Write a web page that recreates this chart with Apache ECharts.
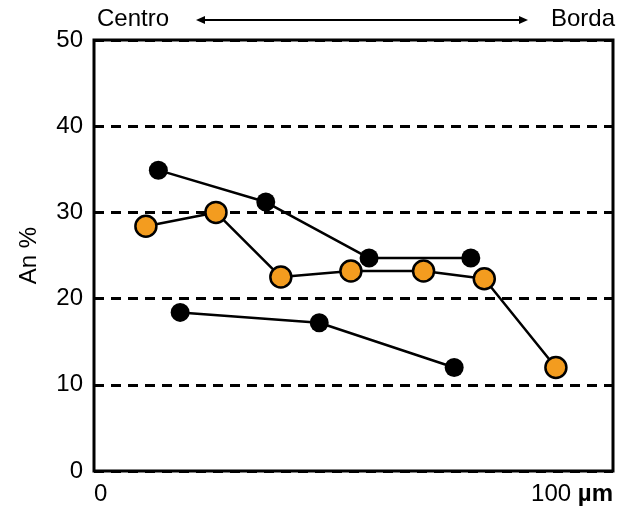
<!DOCTYPE html>
<html>
<head>
<meta charset="utf-8">
<script src="https://cdn.jsdelivr.net/npm/echarts@6/dist/echarts.min.js"></script>
<style>html,body{margin:0;padding:0;background:#fff}#c{width:628px;height:507px}</style>
</head>
<body>
<div id="c"></div>
<script>
// Data (x in µm, y in An %)
const blackUpperX = [12.4, 33.1, 53.0, 72.6];
const blackUpperY = [34.9, 31.2, 24.7, 24.7];
const orangeX = [10.0, 23.5, 36.0, 49.5, 63.5, 75.2, 89.0];
const orangeY = [28.4, 30.0, 22.5, 23.2, 23.2, 22.3, 12.0];
const blackLowerX = [16.6, 43.4, 69.4];
const blackLowerY = [18.4, 17.2, 12.0];
const yTicks = [0, 10, 20, 30, 40, 50];
const xTickLabels = ['0', '100 µm'];
const topLeftLabel = 'Centro';
const topRightLabel = 'Borda';
const yName = 'An %';

const zip = (xs, ys) => xs.map((x, i) => [x, ys[i]]);
const FONT = 'Liberation Sans, Arial, sans-serif';
const FS = 24;

const chart = echarts.init(document.getElementById('c'), null, {renderer: 'canvas'});
chart.setOption({
  animation: false,
  backgroundColor: '#fff',
  grid: {left: 94, right: 15, top: 40, bottom: 36, show: true, borderColor: '#000', borderWidth: 3, backgroundColor: 'transparent'},
  xAxis: {
    type: 'value', min: 0, max: 100, interval: 100,
    axisLine: {show: false}, axisTick: {show: false}, splitLine: {show: false},
    axisLabel: {
      margin: 11, fontSize: FS, color: '#000', fontFamily: FONT,
      alignMinLabel: 'left', alignMaxLabel: 'right',
      formatter: v => v === 0 ? xTickLabels[0] : '100 {b|µm}',
      rich: {b: {fontWeight: 'bold', fontSize: FS, fontFamily: FONT, color: '#000'}}
    }
  },
  yAxis: {
    type: 'value', min: yTicks[0], max: yTicks[yTicks.length - 1], interval: 10,
    name: yName, nameLocation: 'middle', nameGap: 53, nameRotate: 90,
    nameTextStyle: {fontSize: FS, color: '#000', fontFamily: FONT},
    axisLine: {show: false}, axisTick: {show: false},
    axisLabel: {margin: 11, fontSize: FS, color: '#000', fontFamily: FONT},
    splitLine: {show: true, lineStyle: {color: '#000', width: 3, type: [10, 7]}}
  },
  graphic: [
    {type: 'text', left: 97, top: 7, style: {text: topLeftLabel, fontSize: FS, fill: '#000', fontFamily: FONT}},
    {type: 'text', right: 13, top: 7, style: {text: topRightLabel, fontSize: FS, fill: '#000', fontFamily: FONT}},
    {type: 'line', shape: {x1: 202, y1: 20, x2: 522, y2: 20}, style: {stroke: '#000', lineWidth: 2}},
    {type: 'polygon', shape: {points: [[196, 20], [205, 16], [205, 24]]}, style: {fill: '#000'}},
    {type: 'polygon', shape: {points: [[528, 20], [519, 16], [519, 24]]}, style: {fill: '#000'}}
  ],
  series: [
    {type: 'line', data: zip(blackUpperX, blackUpperY), symbol: 'circle', symbolSize: 19,
     lineStyle: {color: '#000', width: 2.5}, itemStyle: {color: '#000'}, z: 2},
    {type: 'line', data: zip(blackLowerX, blackLowerY), symbol: 'circle', symbolSize: 19,
     lineStyle: {color: '#000', width: 2.5}, itemStyle: {color: '#000'}, z: 2},
    {type: 'line', data: zip(orangeX, orangeY), symbol: 'circle', symbolSize: 21,
     lineStyle: {color: '#000', width: 2.5}, itemStyle: {color: '#F39C1F', borderColor: '#000', borderWidth: 2.5}, z: 3}
  ]
});
</script>
</body>
</html>
